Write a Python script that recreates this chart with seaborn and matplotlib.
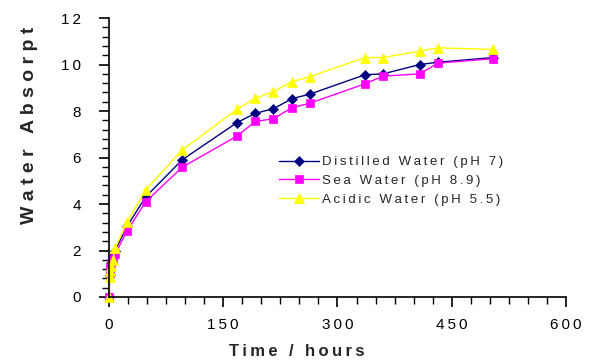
import matplotlib
matplotlib.use("Agg")
import matplotlib.pyplot as plt
import seaborn as sns
import pandas as pd
from matplotlib.ticker import MultipleLocator, FuncFormatter

# ---- data ----
time_h = [0, 1, 2, 3, 5, 8, 24, 48, 96, 168, 192, 216, 240, 264, 336, 360, 408, 432, 504]
distilled = [0, 0.95, 1.2, 1.45, 1.75, 2.0, 3.05, 4.3, 5.9, 7.5, 7.9, 8.1, 8.53, 8.73, 9.56, 9.6, 10.0, 10.1, 10.3]
sea = [0, 1.05, 1.25, 1.45, 1.65, 1.85, 2.85, 4.09, 5.58, 6.92, 7.55, 7.67, 8.14, 8.34, 9.17, 9.5, 9.6, 10.06, 10.25]
acidic = [0, 0.87, 1.13, 1.35, 1.59, 2.09, 3.24, 4.6, 6.32, 8.07, 8.55, 8.83, 9.26, 9.48, 10.3, 10.3, 10.58, 10.72, 10.65]
series_names = ["Distilled Water (pH 7)", "Sea Water (pH 8.9)", "Acidic Water (pH 5.5)"]
x_ticks = [0, 150, 300, 450, 600]
y_ticks = [0, 2, 4, 6, 8, 10, 12]
x_label = "Time / hours"
y_label = "Water Absorpt"

TS = "\u2009"
def spaced(s, sep=TS):
    return sep.join(list(s))

sns.set_theme(style="white")
plt.rcParams["font.family"] = ["Liberation Sans", "DejaVu Sans"]

fig = plt.figure(figsize=(5.9, 3.61), dpi=100)
ax = fig.add_axes([0.1847, 0.1773, 0.7746, 0.7727])

styles = [
    dict(color="#000080", marker="D", markersize=5),
    dict(color="#FF00FF", marker="s", markersize=6),
    dict(color="#FFFF00", marker="^", markersize=7),
]
for vals, name, st in zip([distilled, sea, acidic], series_names, styles):
    df = pd.DataFrame({"t": time_h, "v": vals})
    sns.lineplot(data=df, x="t", y="v", ax=ax, color=st["color"], marker=st["marker"],
                 markersize=st["markersize"], markeredgecolor=st["color"], markeredgewidth=0.5,
                 linewidth=1.0, label=spaced(name), clip_on=False)

ax.set_xlim(0, 600)
ax.set_ylim(0, 12)
ax.xaxis.set_minor_locator(MultipleLocator(25))
ax.yaxis.set_minor_locator(MultipleLocator(0.4))
ax.set_xticks(x_ticks)
ax.set_yticks(y_ticks)
ax.xaxis.set_major_formatter(FuncFormatter(lambda v, p: spaced(str(int(round(v))))))
ax.yaxis.set_major_formatter(FuncFormatter(lambda v, p: spaced(str(int(round(v))))))

for s in ["top", "right"]:
    ax.spines[s].set_visible(False)
for s in ["left", "bottom"]:
    ax.spines[s].set_color("black")
    ax.spines[s].set_linewidth(1.2)

ax.tick_params(axis="both", which="major", direction="out", length=7, width=1.2,
               colors="black", labelsize=11, left=True, bottom=True)
ax.tick_params(axis="y", which="major", pad=13)
ax.tick_params(axis="x", which="major", pad=8)
ax.tick_params(axis="both", which="minor", direction="out", length=5, width=1.0,
               colors="black", left=True, bottom=True)

ax.set_xlabel(spaced(x_label, TS), fontsize=12, fontweight="bold")
ax.set_ylabel(spaced(y_label, " "), fontsize=14, fontweight="bold")
ax.xaxis.set_label_coords(0.411, -0.197)
ax.xaxis.label.set_va("center")
ax.yaxis.set_label_coords(-0.173, 0.617)
ax.yaxis.label.set_va("center")

leg = ax.legend(loc="center left", bbox_to_anchor=(0.372, 0.416), frameon=False,
                fontsize=9.5, handlelength=3.0, handletextpad=0.25, labelspacing=0.5,
                borderaxespad=0, borderpad=0)
ax.grid(False)

fig.savefig("out.png", dpi=100, facecolor="white")
